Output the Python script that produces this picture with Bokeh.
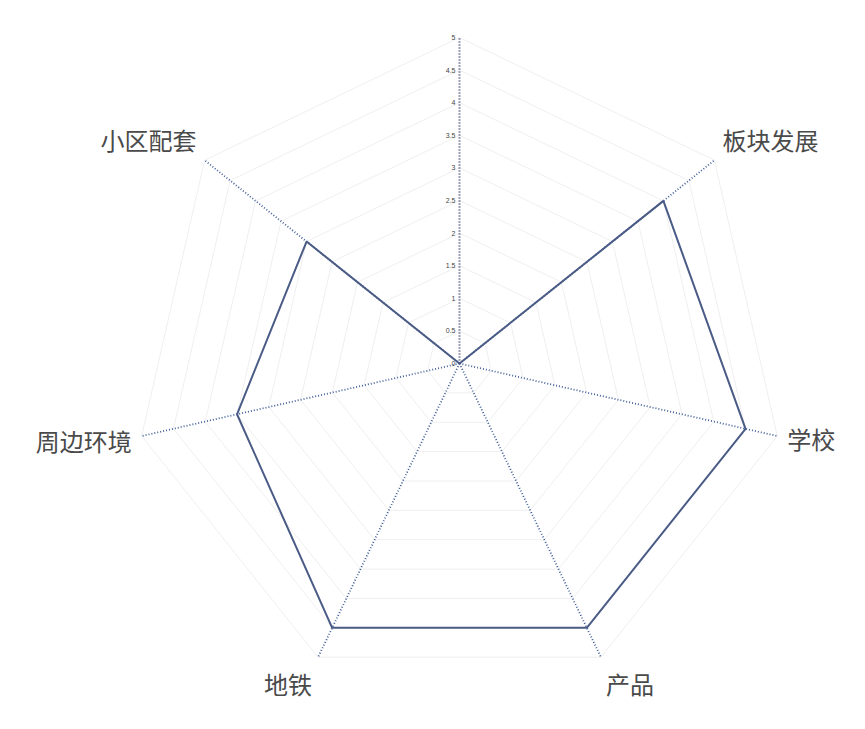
import math
from bokeh.plotting import figure
from bokeh.models import Range1d
from bokeh.core.properties import value
from bokeh.embed import file_html
from bokeh.resources import INLINE

# ---- data ----
categories = ["", "板块发展", "学校", "产品", "地铁", "周边环境", "小区配套"]
scores = [0, 4, 4.5, 4.5, 4.5, 3.5, 3]
tick_values = [0, 0.5, 1, 1.5, 2, 2.5, 3, 3.5, 4, 4.5, 5]
tick_labels = ["0", "0.5", "1", "1.5", "2", "2.5", "3", "3.5", "4", "4.5", "5"]
max_value = 5

# ---- layout ----
W, H = 849, 713
PX = 65.2            # pixels per value unit
CX, CY = 459, 363    # centre in canvas pixels
x0 = -CX / PX
x1 = (W - CX) / PX
y1 = CY / PX
y0 = -(H - CY) / PX

n = len(categories)
angles = [math.pi / 2 - 2 * math.pi * i / n for i in range(n)]

p = figure(width=W, height=H, x_range=Range1d(x0, x1), y_range=Range1d(y0, y1),
           output_backend="svg", toolbar_location=None, min_border=0,
           background_fill_color="white", border_fill_color="white")
p.axis.visible = False
p.grid.visible = False
p.outline_line_color = None

# grid rings
ring_xs, ring_ys = [], []
for t in tick_values[1:]:
    ring_xs.append([t * math.cos(a) for a in angles] + [t * math.cos(angles[0])])
    ring_ys.append([t * math.sin(a) for a in angles] + [t * math.sin(angles[0])])
p.multi_line(ring_xs, ring_ys, line_color="#efefef", line_width=1)

# spokes
sx = [[0, max_value * math.cos(a)] for a in angles]
sy = [[0, max_value * math.sin(a)] for a in angles]
p.multi_line(sx[1:], sy[1:], line_color="#44619a", line_width=1.8, line_dash="1 2")
p.line(sx[0], sy[0], line_color="#34416a", line_width=2, line_dash="1 2")

# data polygon
dx = [s * math.cos(a) for s, a in zip(scores, angles)]
dy = [s * math.sin(a) for s, a in zip(scores, angles)]
p.line(dx + [dx[0]], dy + [dy[0]], line_color="#4a5b85", line_width=2)

# tick labels on the top axis
p.text(x=[-4 / PX] * len(tick_values), y=tick_values, text=tick_labels,
       text_align="right", text_baseline="middle", text_font_size="7px",
       text_color="#444444", text_font=value("Liberation Sans"))

# category labels (offsets in pixels from the spoke ends)
label_style = {
    "板块发展": ("left", 8, -21),
    "学校": ("left", 10, 2),
    "产品": ("center", 29, 26),
    "地铁": ("center", -30, 26),
    "周边环境": ("right", -10, 4),
    "小区配套": ("right", -8, -21),
}
lx, ly, lt, la = [], [], [], []
for c, a in zip(categories, angles):
    if c not in label_style:
        continue
    al, ox, oy = label_style[c]
    lx.append(max_value * math.cos(a) + ox / PX)
    ly.append(max_value * math.sin(a) - oy / PX)
    lt.append(c)
    la.append(al)
for al in ("left", "right", "center"):
    idx = [i for i, v in enumerate(la) if v == al]
    if idx:
        p.text(x=[lx[i] for i in idx], y=[ly[i] for i in idx], text=[lt[i] for i in idx],
               text_align=al, text_baseline="middle", text_font_size="24px",
               text_color="#4a4a4a", text_font=value("Noto Sans CJK SC"))

open("out.html", "w").write(file_html(p, INLINE))
